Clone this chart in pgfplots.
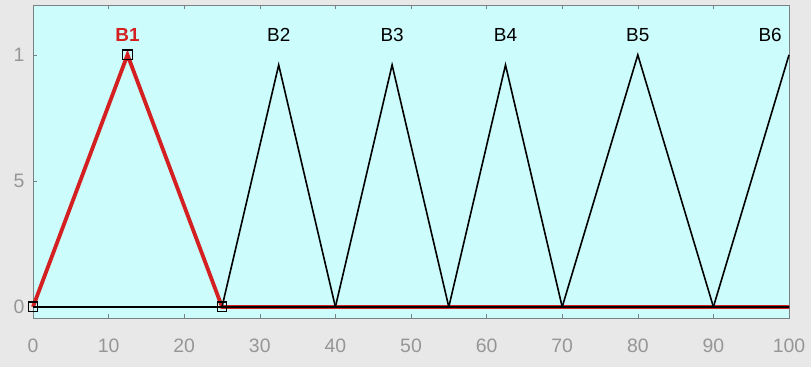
\documentclass[border=0pt]{standalone}
\usepackage{fontspec}
\setmainfont{Liberation Sans}
\usepackage{pgfplots}
\pgfplotsset{compat=1.18}
\definecolor{figgray}{RGB}{232,232,232}
\definecolor{cyanbg}{RGB}{204,252,252}
\definecolor{mfred}{RGB}{212,32,32}
\definecolor{tickgray}{RGB}{150,150,150}
\definecolor{axgray}{RGB}{120,130,130}
\begin{document}
\begin{tikzpicture}[x=1bp,y=1bp]
\fill[figgray] (-33bp,-49bp) rectangle (778bp,318bp);
\begin{axis}[
  at={(0,0)}, anchor=south west,
  scale only axis, width=756bp, height=313bp,
  xmin=0, xmax=100, ymin=-0.044, ymax=1.198,
  axis background/.style={fill=cyanbg},
  axis line style={axgray, line width=0.8pt},
  xtick={0,10,...,100},
  ytick={0,0.5,1}, yticklabels={0,5,1},
  tick align=inside, xtick pos=both, ytick pos=left,
  major tick length=4bp,
  tick style={axgray, line width=0.5pt},
  ticklabel style={font=\fontsize{19.5}{20}\selectfont, text=tickgray},
  xticklabel style={yshift=-17bp},
  yticklabel style={xshift=-5bp},
  /pgf/number format/assume math mode=true,
  clip=false,
]
% B1 (highlighted)
\addplot[mfred, line width=3.8bp] coordinates {(0,0) (12.5,1) (25,0) (100,0)};
% other MFs
\addplot[black, line width=1.6bp] coordinates {(0,0) (25,0) (32.5,0.96) (40,0) (100,0)};
\addplot[black, line width=1.6bp] coordinates {(0,0) (40,0) (47.5,0.96) (55,0) (100,0)};
\addplot[black, line width=1.6bp] coordinates {(0,0) (55,0) (62.5,0.96) (70,0) (100,0)};
\addplot[black, line width=1.6bp] coordinates {(0,0) (70,0) (80,1) (90,0) (100,0)};
\addplot[black, line width=1.6bp] coordinates {(0,0) (90,0) (100,1)};
% vertex markers of B1
\addplot[only marks, mark=square, mark size=4.8bp, black, line width=1.3bp] coordinates {(0,0) (12.5,1) (25,0)};
% labels
\tikzset{mflab/.style={anchor=base, font=\fontsize{19}{20}\selectfont}}
\node[mflab, text=mfred, font=\bfseries\fontsize{19}{20}\selectfont] at (axis cs:12.5,1.055) {B1};
\node[mflab] at (axis cs:32.5,1.055) {B2};
\node[mflab] at (axis cs:47.5,1.055) {B3};
\node[mflab] at (axis cs:62.5,1.055) {B4};
\node[mflab] at (axis cs:80,1.055) {B5};
\node[mflab] at (axis cs:97.5,1.055) {B6};
\end{axis}
\end{tikzpicture}
\end{document}
